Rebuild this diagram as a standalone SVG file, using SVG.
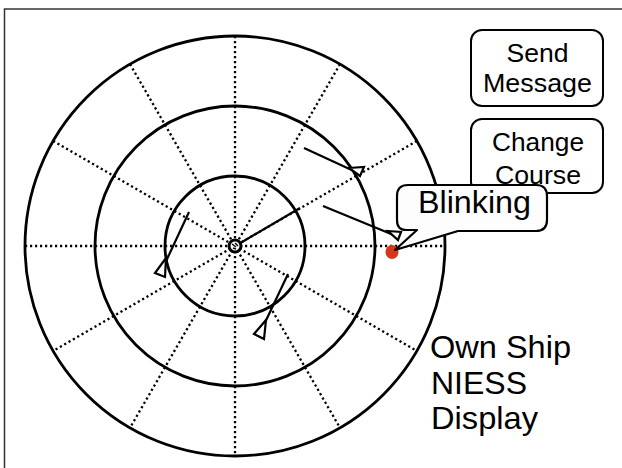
<svg xmlns="http://www.w3.org/2000/svg" width="622" height="468" viewBox="0 0 622 468">
<style>
.ring{fill:none;stroke:#000;stroke-width:2.8}
.spoke{fill:none;stroke:#000;stroke-width:2.3;stroke-dasharray:2.2 2.8}
.vec{fill:none;stroke:#000;stroke-width:2.2}
.ship{fill:#fff;stroke:#000;stroke-width:2.2;stroke-linejoin:miter}
.btn{fill:#fff;stroke:#000;stroke-width:2}
.t{font-family:"Liberation Sans",Arial,sans-serif;fill:#000}
</style>
<rect x="4.5" y="9" width="700" height="520" fill="#fff" stroke="#333" stroke-width="1.5"/>
<g id="radar">
  <circle class="ring" cx="235" cy="246" r="210"/>
  <circle class="ring" cx="235" cy="246" r="140"/>
  <circle class="ring" cx="235" cy="246" r="70"/>
</g>
<g id="spokes">
  <line class="spoke" x1="25" y1="246" x2="445" y2="246"/>
  <line class="spoke" x1="416.87" y1="141" x2="53.13" y2="351"/>
  <line class="spoke" x1="340" y1="64.13" x2="130" y2="427.87"/>
  <line class="spoke" x1="235" y1="36" x2="235" y2="456"/>
  <line class="spoke" x1="130" y1="64.13" x2="340" y2="427.87"/>
  <line class="spoke" x1="53.13" y1="141" x2="416.87" y2="351"/>
</g>
<g id="connectors">
  <line class="vec" x1="237" y1="245" x2="300" y2="208"/>
  <line class="vec" x1="304" y1="148" x2="356" y2="172"/>
  <line class="vec" x1="323" y1="206" x2="396" y2="236"/>
  <line class="vec" x1="189" y1="212" x2="161" y2="272"/>
  <line class="vec" x1="288" y1="274" x2="261" y2="331"/>
</g>
<g id="ship1"><polygon class="ship" points="349,168 364,167 360,176"/></g>
<g id="ship2"><polygon class="ship" points="388,231 401,232 398,240"/></g>
<g id="ship3"><polygon class="ship" points="166,258 155,273 165,277"/></g>
<g id="ship4"><polygon class="ship" points="266,320 254,334 264,339"/></g>
<g id="ownship">
  <circle cx="235" cy="246" r="6" fill="#fff" stroke="#000" stroke-width="3"/>
  <path d="M232,244 L236,247 M235,243 L238,246 M233,248 L236,249" stroke="#000" stroke-width="1.4" fill="none"/>
</g>
<g id="target"><ellipse cx="392" cy="252" rx="6.5" ry="7" fill="#d4381c"/></g>
<g id="send-message">
  <rect class="btn" x="471" y="30" width="132" height="76" rx="11"/>
  <text class="t" x="537.5" y="62" font-size="25" text-anchor="middle" textLength="62" lengthAdjust="spacingAndGlyphs">Send</text>
  <text class="t" x="537.5" y="92" font-size="25" text-anchor="middle" textLength="109" lengthAdjust="spacingAndGlyphs">Message</text>
</g>
<g id="change-course">
  <rect class="btn" x="471" y="119" width="132" height="74" rx="11"/>
  <text class="t" x="538" y="151" font-size="25" text-anchor="middle" textLength="92" lengthAdjust="spacingAndGlyphs">Change</text>
  <text class="t" x="538" y="184" font-size="25" text-anchor="middle" textLength="86" lengthAdjust="spacingAndGlyphs">Course</text>
</g>
<g id="blinking">
  <path d="M417,230 L406,230 Q397,230 397,220 L397,196 Q397,185 408,185 L536,185 Q547,185 547,196 L547,220 Q547,231 536,231 L458,231 L395,250 Z" fill="#fdfdfd" stroke="#000" stroke-width="2.2" stroke-linejoin="round"/>
  <text class="t" x="418" y="213" font-size="31" textLength="113" lengthAdjust="spacingAndGlyphs">Blinking</text>
</g>
<g id="caption">
  <text class="t" x="430" y="358" font-size="32" textLength="141" lengthAdjust="spacingAndGlyphs">Own Ship</text>
  <text class="t" x="431" y="394" font-size="32" textLength="96" lengthAdjust="spacingAndGlyphs">NIESS</text>
  <text class="t" x="431" y="429" font-size="32" textLength="107" lengthAdjust="spacingAndGlyphs">Display</text>
</g>
</svg>
